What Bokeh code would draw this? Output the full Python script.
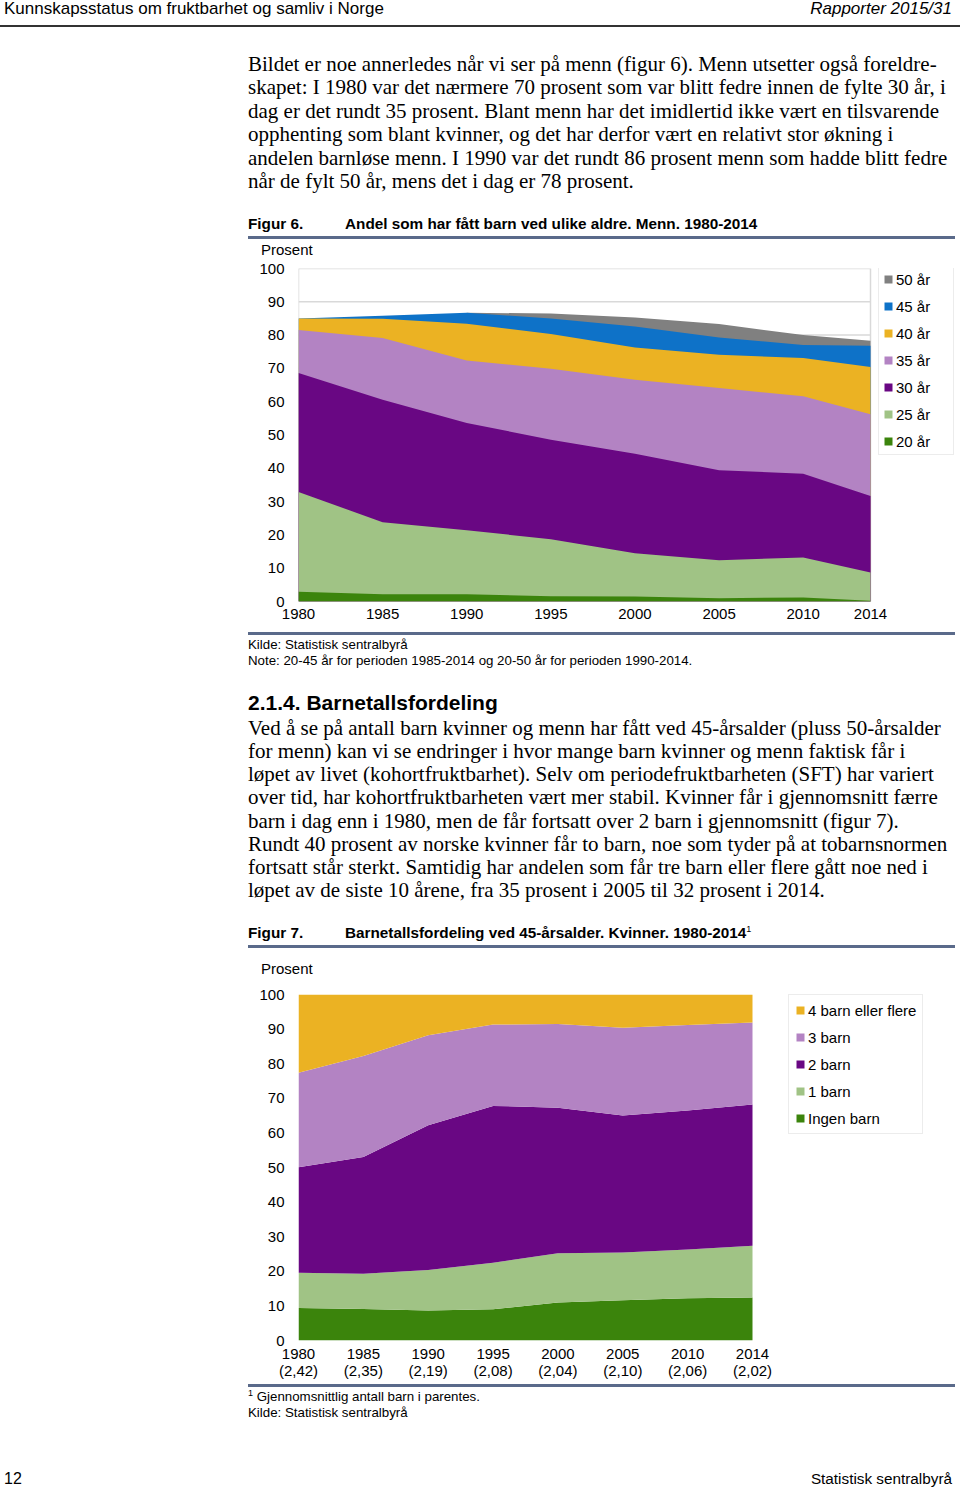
import math
from bokeh.plotting import figure
from bokeh.models import Range1d, FixedTicker, Legend, LegendItem, Div, ColumnDataSource
from bokeh.layouts import column
from bokeh.embed import file_html
from bokeh.resources import INLINE

NaN = float("nan")

# ---------------- Figure 6 data (cumulative share with a child by given age, men) ----------------
years6 = [1980, 1985, 1990, 1995, 2000, 2005, 2010, 2014]
age_labels = ["50 år", "45 år", "40 år", "35 år", "30 år", "25 år", "20 år"]
share_50 = [NaN, NaN, 86.7, 86.5, 85.3, 83.3, 80.0, 78.3]
share_45 = [85.0, 85.8, 86.7, 85.0, 82.6, 79.3, 77.0, 76.8]
share_40 = [85.0, 84.9, 83.4, 80.3, 76.3, 74.1, 73.1, 70.4]
share_35 = [81.5, 79.1, 72.4, 69.9, 66.6, 64.1, 61.6, 56.2]
share_30 = [68.6, 60.6, 53.6, 48.6, 44.4, 39.4, 38.4, 31.7]
share_25 = [32.9, 23.8, 21.4, 18.7, 14.5, 12.4, 13.2, 8.7]
share_20 = [2.9, 2.2, 2.2, 1.6, 1.5, 1.0, 1.2, 0.2]
colors6 = ["#808080", "#0e72c8", "#ebb223", "#b383c3", "#690783", "#a0c385", "#3b840c"]

# ---------------- Figure 7 data (distribution of number of children at age 45, women) ----------------
years7 = ["1980", "1985", "1990", "1995", "2000", "2005", "2010", "2014"]
avg7 = ["2,42", "2,35", "2,19", "2,08", "2,04", "2,10", "2,06", "2,02"]
ingen_barn = [9.4, 9.1, 8.7, 9.0, 11.0, 11.6, 12.2, 12.4]
barn_1 = [10.2, 10.2, 11.7, 13.5, 14.2, 13.8, 14.1, 15.0]
barn_2 = [30.5, 33.7, 41.8, 45.3, 42.1, 39.6, 40.2, 40.8]
barn_3 = [27.3, 29.2, 26.0, 23.5, 24.2, 25.4, 24.7, 23.7]
barn_4plus = [22.6, 17.8, 11.8, 8.7, 8.5, 9.6, 8.8, 8.1]
labels7 = ["Ingen barn", "1 barn", "2 barn", "3 barn", "4 barn eller flere"]
colors7 = ["#3b840c", "#a0c385", "#690783", "#b383c3", "#ebb223"]

yticks = list(range(0, 101, 10))

SANS = "'Liberation Sans', Arial, sans-serif"
SERIF = "'Liberation Serif', 'Times New Roman', serif"
RULE = "#5a6a8a"
PAGE_W = 960

# frame geometry shared by both charts (pixels)
FRAME_L = 298
FRAME_R = 955
FRAME_W = FRAME_R - FRAME_L
DATA_W6 = 572   # width covered by 1980-2014 in figure 6
DATA_W7 = 454   # width covered by the 8 categories in figure 7


class Block:
    def __init__(self, ref_top, height, width=PAGE_W):
        self.ref_top = ref_top
        self.h = height
        self.w = width
        self.parts = []

    def text(self, x, yc, s, size=15, fam=SANS, weight="normal", style="normal", lh=None, right=False):
        lh = lh if lh else round(size * 1.2)
        top = yc - self.ref_top - lh / 2
        pos = f"right:{self.w - x}px;" if right else f"left:{x}px;"
        self.parts.append(
            f'<div style="position:absolute;{pos}top:{top:.1f}px;font-family:{fam};font-size:{size}px;'
            f'line-height:{lh}px;font-weight:{weight};font-style:{style};color:#000;white-space:nowrap;">{s}</div>')

    def rule(self, x0, x1, yc, th=2, color=RULE):
        top = yc - self.ref_top - th / 2
        self.parts.append(
            f'<div style="position:absolute;left:{x0}px;top:{top:.1f}px;width:{x1 - x0}px;height:{th}px;background:{color};"></div>')

    def div(self):
        html = (f'<div style="position:relative;width:{self.w}px;height:{self.h}px;overflow:hidden;">'
                + "".join(self.parts) + '</div>')
        return Div(text=html, width=self.w, height=self.h, margin=(0, 0, 0, 0))


para1 = [
    "Bildet er noe annerledes når vi ser på menn (figur 6). Menn utsetter også foreldre-",
    "skapet: I 1980 var det nærmere 70 prosent som var blitt fedre innen de fylte 30 år, i",
    "dag er det rundt 35 prosent. Blant menn har det imidlertid ikke vært en tilsvarende",
    "opphenting som blant kvinner, og det har derfor vært en relativt stor økning i",
    "andelen barnløse menn. I 1990 var det rundt 86 prosent menn som hadde blitt fedre",
    "når de fylt 50 år, mens det i dag er 78 prosent.",
]
para2 = [
    "Ved å se på antall barn kvinner og menn har fått ved 45-årsalder (pluss 50-årsalder",
    "for menn) kan vi se endringer i hvor mange barn kvinner og menn faktisk får i",
    "løpet av livet (kohortfruktbarhet). Selv om periodefruktbarheten (SFT) har variert",
    "over tid, har kohortfruktbarheten vært mer stabil. Kvinner får i gjennomsnitt færre",
    "barn i dag enn i 1980, men de får fortsatt over 2 barn i gjennomsnitt (figur 7).",
    "Rundt 40 prosent av norske kvinner får to barn, noe som tyder på at tobarnsnormen",
    "fortsatt står sterkt. Samtidig har andelen som får tre barn eller flere gått noe ned i",
    "løpet av de siste 10 årene, fra 35 prosent i 2005 til 32 prosent i 2014.",
]

# ---------------- top block ----------------
top = Block(0, 260)
top.text(4, 9, "Kunnskapsstatus om fruktbarhet og samliv i Norge", size=17)
top.text(952, 9, "Rapporter 2015/31", size=17, style="italic", right=True)
top.rule(0, 960, 26, th=2, color="#333333")
for yc, line in zip([64, 87, 111, 134, 158, 181], para1):
    top.text(248, yc, line, size=21, fam=SERIF, lh=24)
top.text(248, 224, "Figur 6.", size=15.3, weight="bold")
top.text(345, 224, "Andel som har fått barn ved ulike aldre. Menn. 1980-2014", size=15.3, weight="bold")
top.rule(248, 955, 237.5, th=2.5)
top.text(261, 250, "Prosent", size=15)


def style_axes(p):
    for ax in (p.xaxis[0], p.yaxis[0]):
        ax.axis_line_color = None
        ax.major_tick_line_color = None
        ax.minor_tick_line_color = None
        ax.major_tick_out = 0
        ax.major_tick_in = 0
        ax.major_label_text_font = "Liberation Sans"
        ax.major_label_text_font_size = "15px"
        ax.major_label_text_color = "#000000"
    p.yaxis[0].ticker = FixedTicker(ticks=yticks)
    p.yaxis[0].major_label_standoff = 14
    p.xaxis[0].major_label_standoff = 7
    p.xgrid.grid_line_color = None
    p.ygrid.grid_line_color = None
    p.outline_line_color = None
    p.border_fill_color = "white"
    p.background_fill_color = "white"


def legend_style():
    return dict(margin=0, spacing=9, label_height=18, glyph_height=10, glyph_width=10,
                label_text_font="Liberation Sans", label_text_font_size="15px", label_text_color="#000000",
                border_line_color="#d9d9d9", border_line_width=1.5, background_fill_color="white",
                background_fill_alpha=1.0)


# ---------------- Figure 6 ----------------
x_end6 = years6[0] + (years6[-1] - years6[0]) * FRAME_W / DATA_W6
p1 = figure(width=PAGE_W, height=372, x_range=Range1d(years6[0], x_end6), y_range=Range1d(0, 100),
            output_backend="svg", toolbar_location=None,
            min_border_left=FRAME_L, min_border_right=PAGE_W - FRAME_R, min_border_top=8, min_border_bottom=31)
style_axes(p1)
p1.xaxis[0].ticker = FixedTicker(ticks=years6)

# grid lines and plot-area box limited to the data period
p1.segment(x0=years6[0], x1=years6[-1], y0=yticks[1:-1], y1=yticks[1:-1], line_color="#d9d9d9", line_width=1.5)
p1.quad(left=years6[0], right=years6[-1], bottom=0, top=100, fill_color=None,
        line_color="#d9d9d9", line_width=1.5)

series6 = [share_50, share_45, share_40, share_35, share_30, share_25, share_20]
items6 = []
for lab, vals, col in zip(age_labels, series6, colors6):
    xs = [yr for yr, v in zip(years6, vals) if not math.isnan(v)]
    ys = [v for v in vals if not math.isnan(v)]
    r = p1.varea(x=xs, y1=0, y2=ys, fill_color=col)
    items6.append(LegendItem(label=lab, renderers=[r]))

leg1 = Legend(items=items6, location=(878 - FRAME_L, 146), padding=4, label_standoff=3, label_width=53,
              **legend_style())
p1.add_layout(leg1)

# ---------------- middle block ----------------
mid = Block(632, 352)
mid.rule(248, 955, 633.5, th=2.5)
mid.text(248, 645, "Kilde: Statistisk sentralbyrå", size=13.3)
mid.text(248, 661, "Note: 20-45 år for perioden 1985-2014 og 20-50 år for perioden 1990-2014.", size=13.3)
mid.text(248, 703, "2.1.4. Barnetallsfordeling", size=21, weight="bold", lh=24)
for yc, line in zip([728, 751, 774, 797, 821, 844, 867, 890], para2):
    mid.text(248, yc, line, size=21, fam=SERIF, lh=24)
mid.text(248, 933, "Figur 7.", size=15.3, weight="bold")
mid.text(345, 933, 'Barnetallsfordeling ved 45-årsalder. Kvinner. 1980-2014'
         '<span style="font-size:9px;position:relative;top:-6px;font-weight:normal;">1</span>',
         size=15.3, weight="bold")
mid.rule(248, 955, 946.5, th=2.5)
mid.text(261, 969, "Prosent", size=15)

# ---------------- Figure 7 ----------------
x7 = list(range(len(years7)))
x_end7 = (len(years7) - 1) * FRAME_W / DATA_W7
src7 = ColumnDataSource(dict(x=x7, ingen=ingen_barn, b1=barn_1, b2=barn_2, b3=barn_3, b4=barn_4plus))
p2 = figure(width=PAGE_W, height=400, x_range=Range1d(0, x_end7), y_range=Range1d(0, 100),
            output_backend="svg", toolbar_location=None,
            min_border_left=FRAME_L, min_border_right=PAGE_W - FRAME_R, min_border_top=10, min_border_bottom=44)
style_axes(p2)
p2.xaxis[0].ticker = FixedTicker(ticks=x7)
p2.xaxis[0].major_label_overrides = {i: f"{yr}\n({a})" for i, yr, a in zip(x7, years7, avg7)}
p2.xaxis[0].major_label_text_line_height = 1.0
p2.xaxis[0].major_label_standoff = 4

rs7 = p2.varea_stack(stackers=["ingen", "b1", "b2", "b3", "b4"], x="x", color=colors7, source=src7)
items7 = [LegendItem(label=lab, renderers=[r]) for lab, r in zip(labels7, rs7)][::-1]
leg2 = Legend(items=items7, location=(788 - FRAME_L, 206), padding=6, label_standoff=3, **legend_style())
p2.add_layout(leg2)

# ---------------- bottom block ----------------
bot = Block(1384, 105)
bot.rule(248, 955, 1385.5, th=2.5)
bot.text(248, 1397, '<span style="font-size:9px;position:relative;top:-5px;">1</span>'
         '&nbsp;Gjennomsnittlig antall barn i parentes.', size=13.3)
bot.text(248, 1413, "Kilde: Statistisk sentralbyrå", size=13.3)
bot.text(4, 1479, "12", size=16, lh=18)
bot.text(952, 1479, "Statistisk sentralbyrå", size=15.3, lh=18, right=True)

layout = column(top.div(), p1, mid.div(), p2, bot.div(), spacing=0)

with open("out.html", "w", encoding="utf-8") as f:
    f.write(file_html(layout, INLINE))
